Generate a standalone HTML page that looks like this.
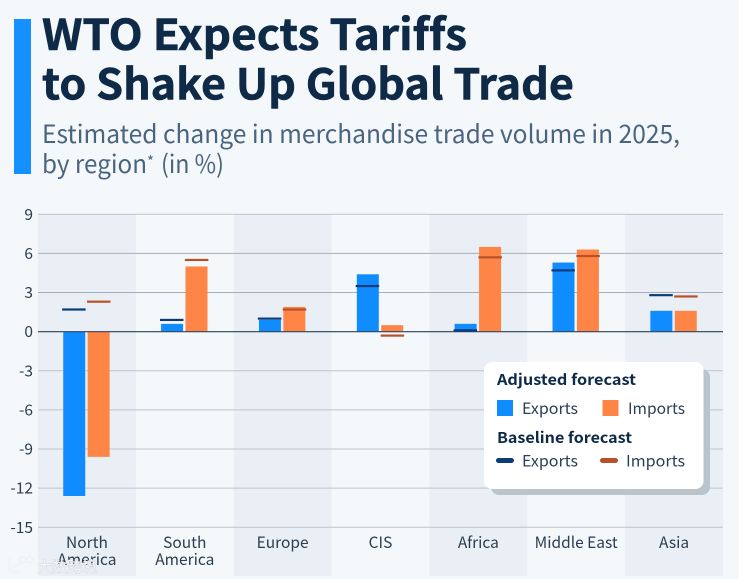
<!DOCTYPE html>
<html lang="en">
<head>
<meta charset="utf-8">
<title>WTO Expects Tariffs to Shake Up Global Trade</title>
<style>
html,body{margin:0;padding:0;background:#f4f8fb;}
body{width:739px;height:579px;overflow:hidden;}
svg{display:block;font-family:"Noto Sans CJK SC","Liberation Sans",sans-serif;font-variant-ligatures:none;}
</style>
</head>
<body>
<svg id="chart" width="739" height="579" viewBox="0 0 739 579" xmlns="http://www.w3.org/2000/svg">
  <rect x="0" y="0" width="739" height="579" fill="#f4f8fb"/>
  <rect x="14" y="19" width="17" height="155" fill="#1590ff"/>
  <text x="42" y="50" font-size="42.5" font-weight="700" fill="#0e2a47" stroke="#0e2a47" stroke-width="0.6" textLength="425" lengthAdjust="spacingAndGlyphs">WTO Expects Tariffs</text>
  <text x="42" y="99.5" font-size="42.5" font-weight="700" fill="#0e2a47" stroke="#0e2a47" stroke-width="0.6" textLength="532" lengthAdjust="spacingAndGlyphs">to Shake Up Global Trade</text>
  <text x="42" y="143" font-size="25" fill="#4a6480" textLength="638" lengthAdjust="spacingAndGlyphs">Estimated change in merchandise trade volume in 2025,</text>
  <text x="42" y="173" font-size="25" fill="#4a6480" textLength="105" lengthAdjust="spacingAndGlyphs">by region</text>
  <text x="147" y="167" font-size="15" fill="#4a6480">*</text>
  <text x="161" y="173" font-size="25" fill="#4a6480" textLength="63" lengthAdjust="spacingAndGlyphs">(in %)</text>
  <g id="bands"></g>
  <g id="grid"></g>
  <g id="yticks"></g>
  <g id="bars"></g>
  <line id="zero" x1="38" x2="723" stroke="#33465a" stroke-width="1.2"/>
  <g id="markers"></g>
  <g id="xlabels"></g>

  <g>
    <rect x="491" y="369" width="219" height="126" rx="8" fill="#b9c4cd"/>
    <rect x="484" y="362" width="219.5" height="127" rx="8" fill="#ffffff"/>
    <text x="497" y="385" font-size="15" font-weight="700" fill="#0e2a47" textLength="139" lengthAdjust="spacingAndGlyphs">Adjusted forecast</text>
    <rect x="497" y="400" width="16" height="16" fill="#0f8cff"/>
    <text x="522" y="414" font-size="15.5" fill="#2b4057" textLength="56" lengthAdjust="spacingAndGlyphs">Exports</text>
    <rect x="602.5" y="400" width="16" height="16" fill="#ff8547"/>
    <text x="628" y="414" font-size="15.5" fill="#2b4057" textLength="57" lengthAdjust="spacingAndGlyphs">Imports</text>
    <text x="497" y="443" font-size="15" font-weight="700" fill="#0e2a47" textLength="135" lengthAdjust="spacingAndGlyphs">Baseline forecast</text>
    <rect x="496" y="458" width="18" height="5" rx="2.5" fill="#0b3a78"/>
    <text x="522" y="466.5" font-size="15.5" fill="#2b4057" textLength="56" lengthAdjust="spacingAndGlyphs">Exports</text>
    <rect x="600" y="458" width="18" height="5" rx="2.5" fill="#b8502a"/>
    <text x="626" y="466.5" font-size="15.5" fill="#2b4057" textLength="59" lengthAdjust="spacingAndGlyphs">Imports</text>
  </g>

  <g>
    <path d="M9.5 557v10q0 5 6 5h4M13 568q3-5 8-3" fill="none" stroke="#f2f4f5" stroke-width="3"/>
    <rect x="19.5" y="557" width="7" height="5.5" rx="2.7" fill="none" stroke="#eef0f2" stroke-width="1.3"/>
    <rect x="27" y="557" width="6" height="5.5" rx="2.7" fill="none" stroke="#eef0f2" stroke-width="1.3"/>
    <text x="37" y="572" font-size="15" fill="#f4f6f7" stroke="#bcc4ca" stroke-width="0.5" paint-order="stroke">大数跨境</text>
  </g>
</svg>
<script>
const categories = [["North","America"],["South","America"],["Europe"],["CIS"],["Africa"],["Middle East"],["Asia"]];
const adjustedExports = [-12.6, 0.6, 0.9, 4.4, 0.6, 5.3, 1.6];
const adjustedImports = [-9.6, 5.0, 1.9, 0.5, 6.5, 6.3, 1.6];
const baselineExports = [1.7, 0.9, 1.0, 3.5, 0.1, 4.7, 2.8];
const baselineImports = [2.3, 5.5, 1.7, -0.3, 5.7, 5.8, 2.7];
const yTicks = [9, 6, 3, 0, -3, -6, -9, -12, -15];

const NS = 'http://www.w3.org/2000/svg';
const plotLeft = 38, plotRight = 723, plotTop = 214.3, plotBottom = 527.3, bandBottom = 576;
const yMax = 9, yMin = -15;
function yScale(v) { return plotTop + (yMax - v) * (plotBottom - plotTop) / (yMax - yMin); }
function bandWidth() { return (plotRight - plotLeft) / categories.length; }
function xCenter(i) { return plotLeft + bandWidth() * (i + 0.5); }
function make(tag, parentId, props, text) {
  const el = document.createElementNS(NS, tag);
  Object.keys(props).forEach(function (k) { el.setAttribute(k, props[k]); });
  if (text !== undefined) el.textContent = text;
  document.getElementById(parentId).appendChild(el);
  return el;
}
const barW = 22, markW = 23.5, markH = 2.2;

categories.forEach(function (c, i) {
  if (i % 2 === 0) {
    const band = make('rect', 'bands', { x: plotLeft + bandWidth() * i, y: plotTop, width: bandWidth(), height: bandBottom - plotTop, fill: '#e9eff5' });
    
    
  }
});

yTicks.forEach(function (t) {
  const line = make('line', 'grid', { x1: plotLeft, x2: plotRight, y1: yScale(t), y2: yScale(t), stroke: (t === 6 || t === 3) ? '#a4afb9' : '#bcc6ce', 'stroke-width': 1 });
  
  
  const label = make('text', 'yticks', { x: 33, y: yScale(t) + 5.5, 'text-anchor': 'end', 'font-size': 15.5, fill: '#2b3d50' }, String(t));
  
  
});

document.getElementById('zero').setAttribute('y1', yScale(0));
document.getElementById('zero').setAttribute('y2', yScale(0));

function drawBar(v, x, fill) {
  const y0 = yScale(0), y1 = yScale(v);
  return make('rect', 'bars', { x: x, y: Math.min(y0, y1), width: barW, height: Math.abs(y1 - y0), fill: fill });
}
function drawMarker(v, x, fill) {
  return make('rect', 'markers', { x: x, y: yScale(v) - markH / 2, width: markW, height: markH, fill: fill });
}

categories.forEach(function (c, i) {
  const cx = xCenter(i);
  const be = drawBar(adjustedExports[i], cx - barW - 1.7, '#0f8cff');
  
  
  const bi = drawBar(adjustedImports[i], cx + 0.7, '#ff8547');
  
  
  const me = drawMarker(baselineExports[i], cx - markW - 1.3, '#0b3a78');
  
  
  const mi = drawMarker(baselineImports[i], cx + 0.1, '#b8502a');
  
  
  c.forEach(function (line, j) {
    const t = make('text', 'xlabels', { x: cx, y: 548 + j * 17, 'text-anchor': 'middle', 'font-size': 15.5, fill: '#2b3d50' }, line);
    
    
  });
});
</script>
</body>
</html>
